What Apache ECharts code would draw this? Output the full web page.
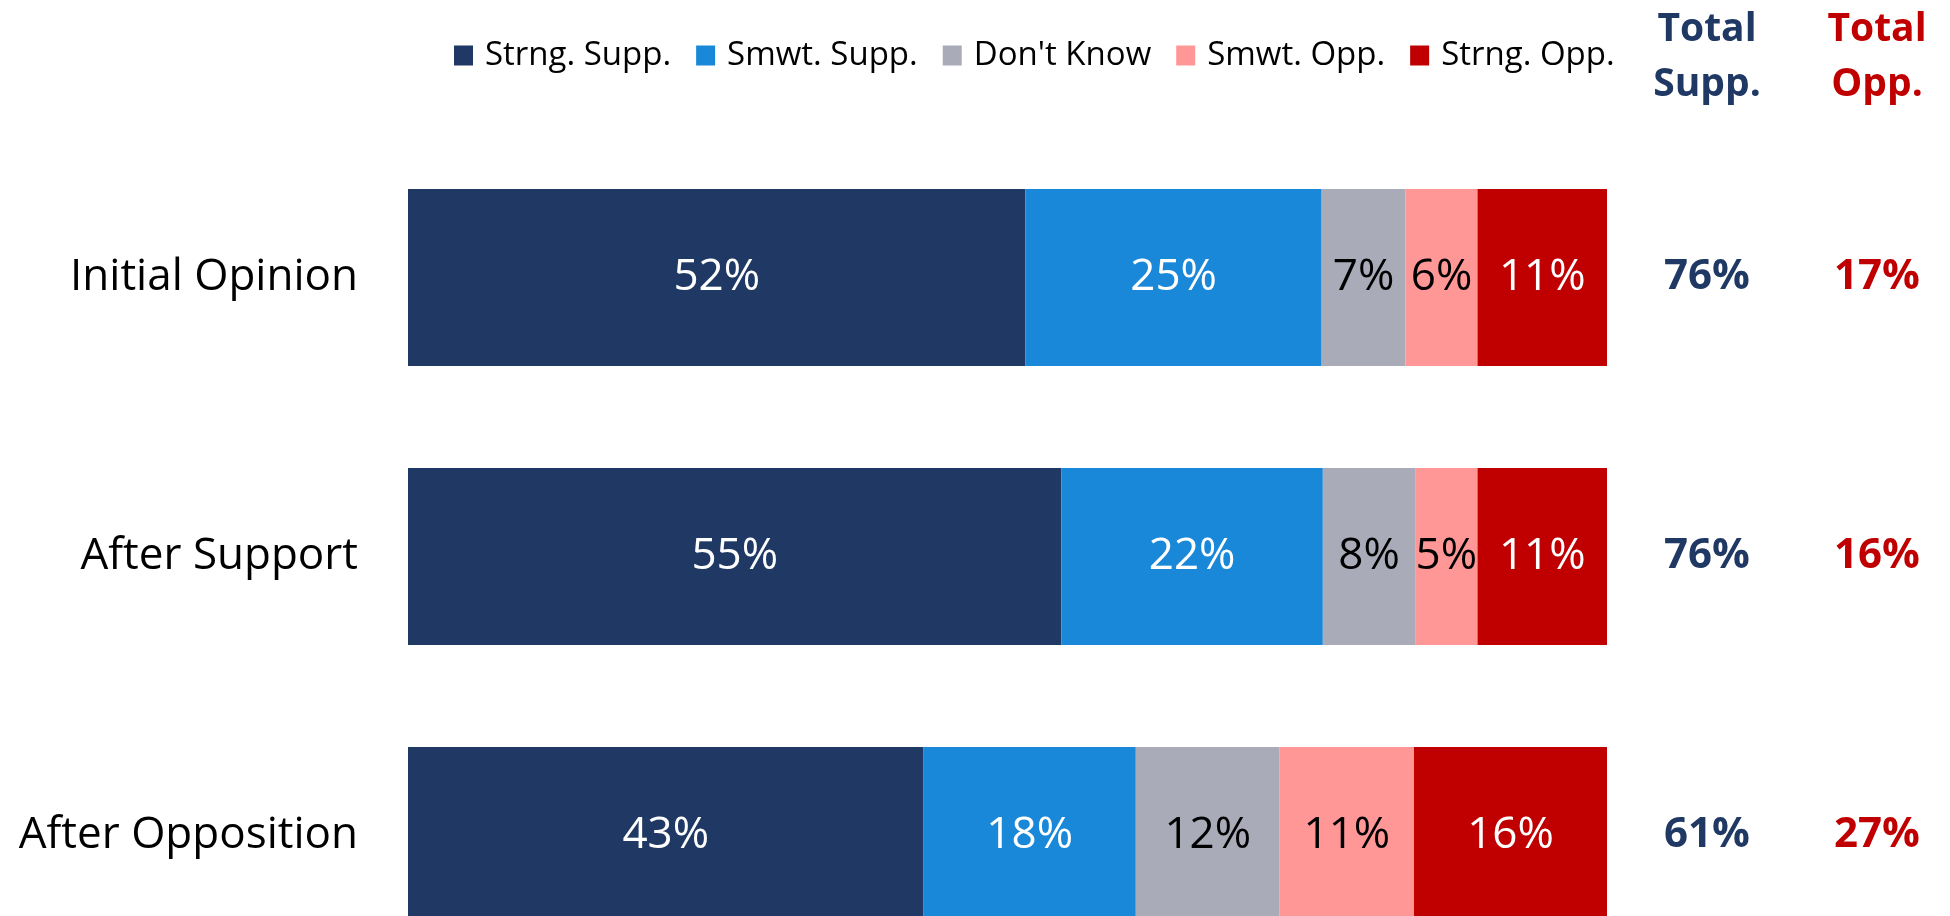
<!DOCTYPE html>
<html>
<head>
<meta charset="utf-8">
<script src="https://cdn.jsdelivr.net/npm/echarts@6/dist/echarts.min.js"></script>
<style>
    html, body { margin: 0; padding: 0; background: #fff; }
    #chart { width: 1950px; height: 916px; }
</style>
</head>
<body>
<div id="chart"></div>
<script>
    'use strict';
    // rows, top to bottom
    var categories = ['Initial Opinion', 'After Support', 'After Opposition'];

    // segment shares (labels show them rounded)
    var strngSupp = [51.5, 54.5, 43.0];
    var smwtSupp = [24.7, 21.8, 17.7];
    var dontKnow = [7.0, 7.7, 12.0];
    var smwtOpp = [6.0, 5.2, 11.2];
    var strngOpp = [10.8, 10.8, 16.1];

    // right-hand total columns
    var totalSupp = [76, 76, 61];
    var totalOpp = [17, 16, 27];

    var FONT = '"Open Sans", "Noto Sans", sans-serif';
    var NAVY = '#1F3864';
    var RED = '#C00000';

    function makeSeries (name, data, color, labelColor) {
        return {
            name: name,
            type: 'bar',
            stack: 'total',
            barWidth: 177,
            data: data,
            itemStyle: {color: color},
            label: {
                show: true,
                position: 'inside',
                color: labelColor,
                fontFamily: FONT,
                fontSize: 44,
                formatter: function (p) {
                    return Math.round(p.value) + '%';
                }
            },
            emphasis: {disabled: true}
        };
    }

    function totalAxis (values, color, margin) {
        return {
            type: 'category',
            data: categories,
            inverse: true,
            position: 'right',
            axisLine: {show: false},
            axisTick: {show: false},
            axisLabel: {
                margin: margin,
                align: 'center',
                color: color,
                fontFamily: FONT,
                fontWeight: 'bold',
                fontSize: 42,
                formatter: function (v, i) {
                    return values[i] + '%';
                }
            }
        };
    }

    var chart = echarts.init(document.getElementById('chart'));
    chart.setOption({
        animation: false,
        backgroundColor: '#fff',
        legend: {
            left: 454,
            top: 39,
            padding: 0,
            itemWidth: 19,
            itemHeight: 20,
            itemGap: 25,
            icon: 'rect',
            textStyle: {fontFamily: FONT, fontSize: 33, color: '#000', padding: [0, 0, 0, 7]},
            data: ['Strng. Supp.', 'Smwt. Supp.', "Don't Know", 'Smwt. Opp.', 'Strng. Opp.']
        },
        graphic: [
            {
                type: 'text', x: 1707, y: 2,
                style: {
                    text: 'Total\nSupp.', align: 'center', verticalAlign: 'top',
                    font: 'bold 39px ' + FONT, lineHeight: 55, fill: NAVY
                }
            },
            {
                type: 'text', x: 1877, y: 2,
                style: {
                    text: 'Total\nOpp.', align: 'center', verticalAlign: 'top',
                    font: 'bold 39px ' + FONT, lineHeight: 55, fill: RED
                }
            }
        ],
        grid: {left: 408, width: 1199, top: 138, height: 837, outerBoundsMode: 'none'},
        xAxis: {type: 'value', min: 0, max: 100, show: false},
        yAxis: [
            {
                type: 'category',
                data: categories,
                inverse: true,
                axisLine: {show: false},
                axisTick: {show: false},
                axisLabel: {margin: 50, color: '#000', fontFamily: FONT, fontSize: 44}
            },
            totalAxis(totalSupp, NAVY, 100),
            totalAxis(totalOpp, RED, 270)
        ],
        series: [
            makeSeries('Strng. Supp.', strngSupp, NAVY, '#fff'),
            makeSeries('Smwt. Supp.', smwtSupp, '#1A88D8', '#fff'),
            makeSeries("Don't Know", dontKnow, '#A9ABB8', '#000'),
            makeSeries('Smwt. Opp.', smwtOpp, '#FF9797', '#000'),
            makeSeries('Strng. Opp.', strngOpp, RED, '#fff')
        ]
    });
</script>
</body>
</html>
